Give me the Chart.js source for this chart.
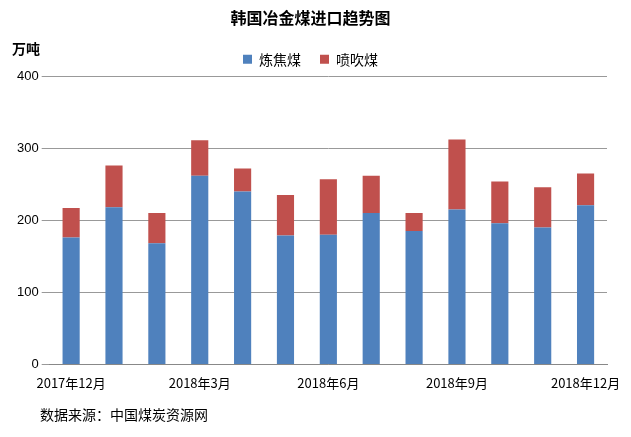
<!DOCTYPE html>
<html><head><meta charset="utf-8">
<script src="https://cdn.jsdelivr.net/npm/chart.js@4/dist/chart.umd.min.js"></script>
<style>
body{margin:0;background:#fff;font-family:"Noto Sans CJK SC",sans-serif}
#wrap{position:relative;width:631px;height:437px}
#unit{position:absolute;left:12px;top:38px;font-size:14px;font-weight:bold}
#src{position:absolute;left:40px;top:404px;font-size:14px}
</style></head><body>
<div id="wrap"><canvas id="c" width="631" height="437"></canvas>
<div id="unit">万吨</div><div id="src">数据来源：中国煤炭资源网</div></div>
<script>
const months = ['2017年12月','2018年1月','2018年2月','2018年3月','2018年4月','2018年5月','2018年6月','2018年7月','2018年8月','2018年9月','2018年10月','2018年11月','2018年12月'];
const coking = [176,218,168,262,240,179,180,210,185,215,196,190,221];
const pci = [41,58,42,49,32,56,77,52,25,97,58,56,44];
new Chart(document.getElementById('c'),{type:'bar',
  data:{labels:months,datasets:[
    {label:'炼焦煤',data:coking,backgroundColor:'#4f81bd',barPercentage:0.4,categoryPercentage:1},
    {label:'喷吹煤',data:pci,backgroundColor:'#c0504d',barPercentage:0.4,categoryPercentage:1}]},
  options:{responsive:false,animation:false,
    layout:{padding:{left:14,right:24,bottom:43,top:8}},
    plugins:{title:{display:true,text:'韩国冶金煤进口趋势图',font:{size:16,weight:'bold',family:'Noto Sans CJK SC'},color:'#000',padding:{bottom:6}},
      legend:{labels:{boxWidth:9,boxHeight:9,padding:19,font:{size:14,family:'Noto Sans CJK SC'},color:'#000'}}},
    scales:{x:{stacked:true,grid:{display:false},border:{color:'#888'},
        ticks:{autoSkip:false,maxRotation:0,color:'#000',font:{size:13,family:'Noto Sans CJK SC'},callback:(v,i)=>i%3===0?months[i]:''}},
      y:{stacked:true,min:0,max:400,ticks:{stepSize:100,color:'#000',font:{size:13}},grid:{color:'#999'},border:{display:false}}}}});
</script></body></html>
